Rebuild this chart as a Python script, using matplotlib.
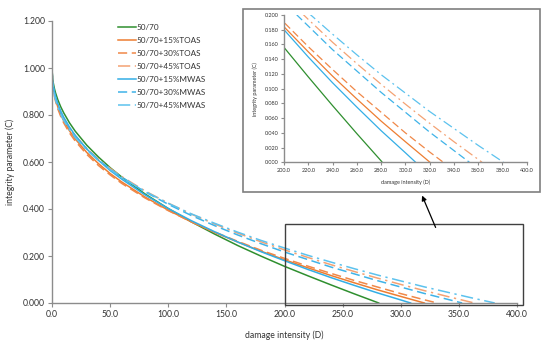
import matplotlib
matplotlib.use("Agg")
import matplotlib.pyplot as plt
from matplotlib.patches import Rectangle, FancyArrowPatch
from matplotlib.ticker import FormatStrFormatter

plt.rcParams['font.family'] = ['Lato', 'DejaVu Sans']

# damage intensity grid (D) shared by all curves
d_grid = [0, 0.5, 1, 2, 3, 5, 7.5, 10, 15, 20, 30, 40, 50, 60, 80, 100, 120, 140,
          160, 180, 200, 220, 240, 260, 280, 300, 320, 340, 360, 380]

# integrity parameter (C), one list per binder
c_5070 = [1.0, 0.957, 0.939, 0.914, 0.895, 0.865, 0.835, 0.810, 0.767, 0.731, 0.671, 0.621,
          0.576, 0.536, 0.464, 0.402, 0.345, 0.293, 0.244, 0.199, 0.156, 0.116, 0.077, 0.039, 0.002]
c_toas15 = [1.0, 0.939, 0.917, 0.888, 0.867, 0.834, 0.802, 0.776, 0.733, 0.698, 0.640, 0.593,
            0.551, 0.515, 0.451, 0.395, 0.345, 0.300, 0.259, 0.220, 0.184, 0.150, 0.117, 0.086,
            0.056, 0.028]
c_toas30 = [1.0, 0.933, 0.911, 0.881, 0.859, 0.826, 0.794, 0.767, 0.724, 0.689, 0.632, 0.585,
            0.545, 0.509, 0.447, 0.393, 0.345, 0.302, 0.262, 0.224, 0.190, 0.157, 0.126, 0.096,
            0.068, 0.040, 0.014]
c_toas45 = [1.0, 0.941, 0.920, 0.893, 0.872, 0.841, 0.811, 0.786, 0.745, 0.712, 0.657, 0.612,
            0.573, 0.538, 0.477, 0.425, 0.378, 0.336, 0.297, 0.260, 0.226, 0.194, 0.163, 0.134,
            0.106, 0.079, 0.053, 0.028, 0.004]
c_mwas15 = [1.0, 0.947, 0.927, 0.900, 0.880, 0.848, 0.817, 0.791, 0.749, 0.713, 0.655, 0.607,
            0.564, 0.527, 0.460, 0.402, 0.350, 0.303, 0.259, 0.218, 0.180, 0.143, 0.108, 0.075,
            0.043, 0.013]
c_mwas30 = [1.0, 0.941, 0.921, 0.893, 0.872, 0.841, 0.810, 0.785, 0.744, 0.710, 0.655, 0.609,
            0.570, 0.535, 0.473, 0.420, 0.372, 0.329, 0.289, 0.252, 0.217, 0.185, 0.153, 0.124,
            0.095, 0.068, 0.041, 0.016]
c_mwas45 = [1.0, 0.936, 0.914, 0.886, 0.865, 0.833, 0.803, 0.778, 0.737, 0.704, 0.650, 0.606,
            0.568, 0.534, 0.475, 0.424, 0.379, 0.339, 0.301, 0.266, 0.234, 0.203, 0.174, 0.146,
            0.119, 0.094, 0.069, 0.046, 0.023, 0.001]

# D where each curve reaches C = 0
d_fail = [281.0, 320.3, 331.3, 363.2, 308.5, 352.8, 380.8]

labels = ['50/70', '50/70+15%TOAS', '50/70+30%TOAS', '50/70+45%TOAS',
          '50/70+15%MWAS', '50/70+30%MWAS', '50/70+45%MWAS']
series = [c_5070, c_toas15, c_toas30, c_toas45, c_mwas15, c_mwas30, c_mwas45]
colors = ['#2f8f2f', '#ED7D31', '#F08848', '#F4A273', '#33AEE6', '#3FB3E8', '#5CC2EE']
dashes = [None, None, (6, 3), (8, 3, 1.5, 3), None, (6, 3), (8, 3, 1.5, 3)]

fig = plt.figure(figsize=(5.5, 3.43), dpi=100)
ax = fig.add_axes([52 / 550, 1 - 303 / 343, 465 / 550, 282 / 343])
ins = fig.add_axes([284 / 550, 1 - 162.3 / 343, 242.7 / 550, 147.3 / 343])


def draw(a, lw):
    for c, end, lab, col, ds in zip(series, d_fail, labels, colors, dashes):
        xs = d_grid[:len(c)] + [end]
        ys = c + [0.0]
        ln, = a.plot(xs, ys, color=col, lw=lw, label=lab)
        if ds is not None:
            ln.set_dashes(ds)


def style(a, fs, tl):
    for s in ['top', 'right']:
        a.spines[s].set_visible(False)
    for s in ['left', 'bottom']:
        a.spines[s].set_color('#8c8c8c')
        a.spines[s].set_linewidth(1.0)
    a.tick_params(direction='out', length=tl, width=0.8, color='#8c8c8c',
                  labelsize=fs, labelcolor='#333333', pad=2)
    a.yaxis.set_major_formatter(FormatStrFormatter('%.3f'))
    a.xaxis.set_major_formatter(FormatStrFormatter('%.1f'))


draw(ax, 1.1)
ax.set_xlim(0, 400)
ax.set_ylim(0, 1.2)
ax.set_xticks([0, 50, 100, 150, 200, 250, 300, 350, 400])
ax.set_yticks([0, 0.2, 0.4, 0.6, 0.8, 1.0, 1.2])
style(ax, 6.2, 3)
ax.set_xlabel('damage intensity (D)', fontsize=6.2, color='#333333', labelpad=8)
ax.set_ylabel('integrity parameter (C)', fontsize=6.2, color='#333333', labelpad=6)

leg = ax.legend(loc='upper left', bbox_to_anchor=(0.135, 1.0), frameon=False,
                fontsize=5.9, handlelength=2.2, handletextpad=0.1,
                labelspacing=0.72, borderaxespad=0)
for t in leg.get_texts():
    t.set_color('#333333')

# zoom window on the main chart
ax.add_patch(Rectangle((200, -0.008), 205, 0.343, fill=False, ec='#404040',
                       lw=1.0, clip_on=False, zorder=5))

draw(ins, 0.9)
ins.set_xlim(200, 400)
ins.set_ylim(0, 0.2)
ins.set_xticks(range(200, 401, 20))
ins.set_yticks([i * 0.02 for i in range(11)])
style(ins, 4.0, 2)
ins.set_xlabel('damage intensity (D)', fontsize=4.0, color='#333333', labelpad=5)
ins.set_ylabel('integrity parameter (C)', fontsize=4.0, color='#333333', labelpad=5)
ins.set_facecolor('white')

# frame around the inset
fig.patches.append(Rectangle((243 / 550, 1 - 192 / 343), 296.5 / 550, 183 / 343,
                             transform=fig.transFigure, fill=False, ec='#7f7f7f',
                             lw=1.2, zorder=0))

fig.patches.append(FancyArrowPatch((436.7 / 550, 1 - 230 / 343), (421 / 550, 1 - 193 / 343),
                                   transform=fig.transFigure, arrowstyle='-|>',
                                   mutation_scale=7, color='black', lw=0.9))

fig.savefig('out.png', dpi=100)
